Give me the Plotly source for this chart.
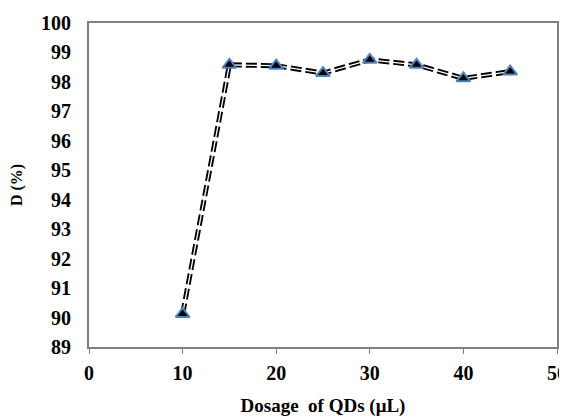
import plotly.graph_objects as go

dosage = [10, 15, 20, 25, 30, 35, 40, 45]
d_percent = [90.12, 98.58, 98.55, 98.3, 98.75, 98.58, 98.12, 98.35]
x_ticks = [0, 10, 20, 30, 40, 50]
y_ticks = [89, 90, 91, 92, 93, 94, 95, 96, 97, 98, 99, 100]

font_family = "Liberation Serif, Times New Roman, serif"

fig = go.Figure()
fig.add_trace(go.Scatter(
    x=dosage, y=d_percent, mode="lines",
    line=dict(color="black", width=5, dash="11px,4px"),
    hoverinfo="skip", showlegend=False))
fig.add_trace(go.Scatter(
    x=dosage, y=d_percent, mode="lines",
    line=dict(color="white", width=1.3),
    hoverinfo="skip", showlegend=False))
fig.add_trace(go.Scatter(
    x=dosage, y=d_percent, mode="markers",
    marker=dict(symbol="triangle-up", size=12, color="black",
                line=dict(color="#4F81BD", width=2)),
    showlegend=False))

# page body has an 8px default margin, so the figure is sized to fit
fig.update_layout(
    width=559, height=410,
    margin=dict(l=81, r=10, t=15, b=71, autoexpand=False),
    paper_bgcolor="white", plot_bgcolor="white",
    font=dict(family=font_family, color="black", size=20),
    showlegend=False,
)
fig.update_xaxes(
    range=[0, 50], tickvals=x_ticks, ticktext=[str(v) for v in x_ticks],
    showgrid=False, zeroline=False, automargin=False,
    showline=True, linecolor="#808080", linewidth=2, mirror=True,
    ticks="outside", ticklen=5, tickcolor="#808080", tickwidth=1,
    ticklabelstandoff=2,
    tickfont=dict(family=font_family, size=20, color="black", weight="bold"),
    title=dict(text="Dosage  of QDs (μL)", standoff=16,
               font=dict(family=font_family, size=19, color="black", weight="bold")),
)
fig.update_yaxes(
    range=[89, 100], tickvals=y_ticks, ticktext=[str(v) for v in y_ticks],
    showgrid=False, zeroline=False, automargin=False,
    showline=True, linecolor="#808080", linewidth=2, mirror=True,
    ticks="", ticklabelstandoff=12,
    tickfont=dict(family=font_family, size=20, color="black", weight="bold"),
    title=dict(text="D (%)", standoff=14,
               font=dict(family=font_family, size=16, color="black", weight="bold")),
)

fig.write_html("out.html")
